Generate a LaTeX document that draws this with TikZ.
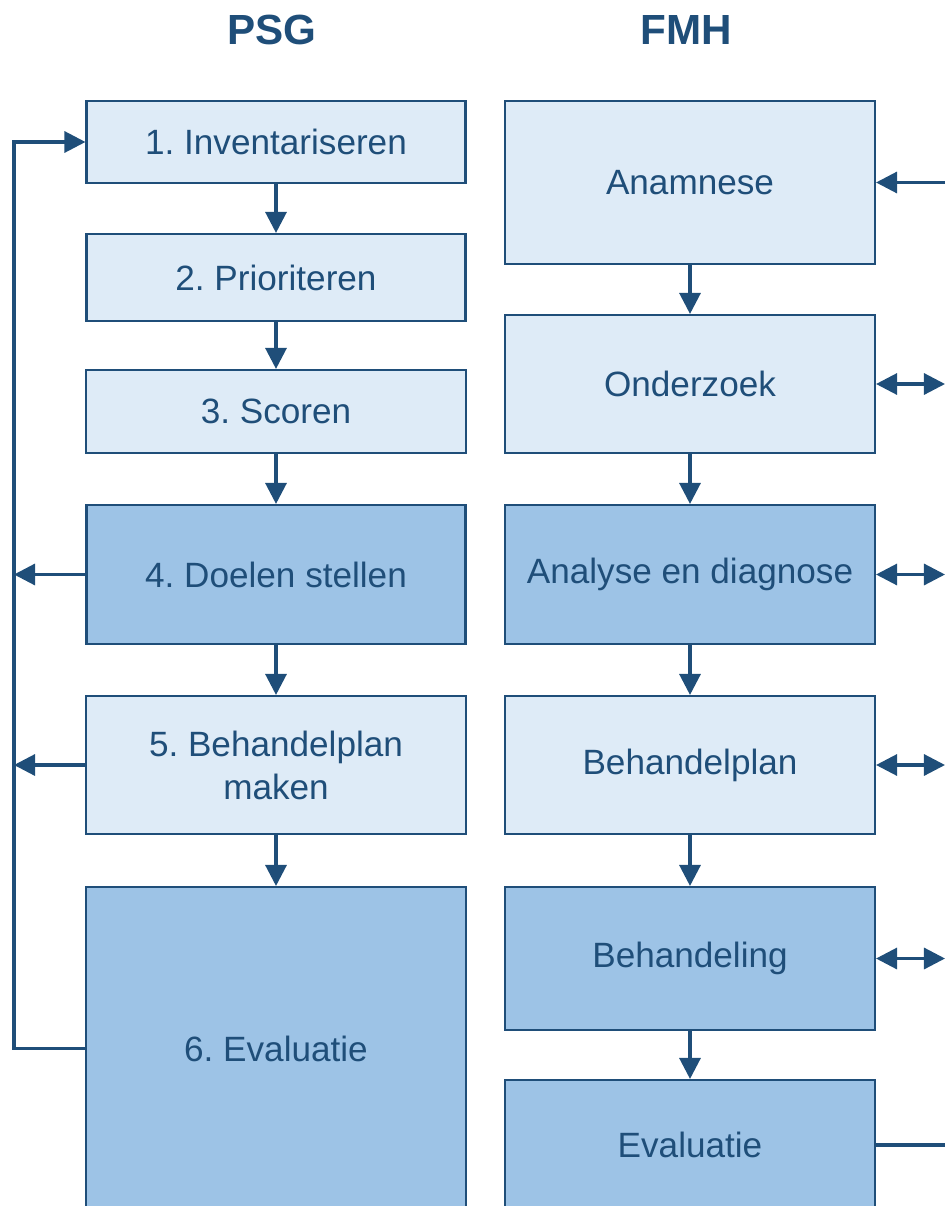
\documentclass[tikz,border=0pt]{standalone}
\usepackage{fontspec}
\setmainfont{Liberation Sans}
\usetikzlibrary{arrows.meta}
\definecolor{ink}{HTML}{1F4E79}
\definecolor{lightblue}{HTML}{DEEBF7}
\definecolor{midblue}{HTML}{9DC3E6}
\frenchspacing
\begin{document}
\begin{tikzpicture}[x=0.02cm,y=-0.02cm,
    box/.style={draw=ink,line width=1.2pt,fill=lightblue,text=ink,inner sep=0pt,
      align=center,font=\fontsize{20}{24.4}\selectfont},
    dark/.style={box,fill=midblue},
    title/.style={text=ink,font=\fontsize{24}{28}\selectfont\bfseries},
    link/.style={draw=ink,line width=1.8pt},
    >={Triangle[length=12pt,width=12pt]}]
  \useasboundingbox (0,0) rectangle (945,1206);
  \clip (0,0) rectangle (945,1206);
  \draw
    (272,30) node[title] (psg){PSG}
    (686,30) node[title] (fmh){FMH}
    (276,142) node[box,minimum width=7.58cm,minimum height=1.64cm] (p1){1. Inventariseren}
    (276,277.5) node[box,minimum width=7.58cm,minimum height=1.74cm] (p2){2. Prioriteren}
    (276,411.5) node[box,minimum width=7.6cm,minimum height=1.66cm] (p3){3. Scoren}
    (276,574.5) node[dark,minimum width=7.58cm,minimum height=2.78cm] (p4){4. Doelen stellen}
    (276,765) node[box,minimum width=7.6cm,minimum height=2.76cm] (p5){5. Behandelplan\\maken}
    (276,1048.5) node[dark,minimum width=7.6cm,minimum height=6.46cm] (p6){6. Evaluatie}
    (690,182.5) node[box,minimum width=7.4cm,minimum height=3.26cm] (f1){Anamnese}
    (690,384) node[box,minimum width=7.4cm,minimum height=2.76cm] (f2){Onderzoek}
    (690,574.5) node[dark,minimum width=7.4cm,minimum height=2.78cm] (f3){Analyse en diagnose}
    (690,765) node[box,minimum width=7.4cm,minimum height=2.76cm] (f4){Behandelplan}
    (690,958.5) node[dark,minimum width=7.4cm,minimum height=2.86cm] (f5){Behandeling}
    (690,1145) node[dark,minimum width=7.4cm,minimum height=2.6cm] (f6){Evaluatie};
  \coordinate (lft) at (14,142);
  \coordinate (rgt) at (945,183);
  \begin{scope}[link,->]
    % PSG steps
    \draw (p1) to (p2);
    \draw (p2) to (p3);
    \draw (p3) to (p4);
    \draw (p4) to (p5);
    \draw (p5) to (p6);
    % FMH steps
    \draw (f1) to (f2);
    \draw (f2) to (f3);
    \draw (f3) to (f4);
    \draw (f4) to (f5);
    \draw (f5) to (f6);
    % feedback left
    \draw (p6.west) -| (lft) -- (p1.west);
    \draw (p4.west) -- (p4.west -| lft);
    \draw (p5.west) -- (p5.west -| lft);
  \end{scope}
  \begin{scope}[link]
    \draw[<-] (f1.east) -- (f1.east -| rgt);
    \draw[<->] (f2.east) -- (f2.east -| rgt);
    \draw[<->] (f3.east) -- (f3.east -| rgt);
    \draw[<->] (f4.east) -- (f4.east -| rgt);
    \draw[<->] (f5.east) -- (f5.east -| rgt);
    \draw (f6.east) -- (f6.east -| rgt);
  \end{scope}
\end{tikzpicture}
\end{document}
